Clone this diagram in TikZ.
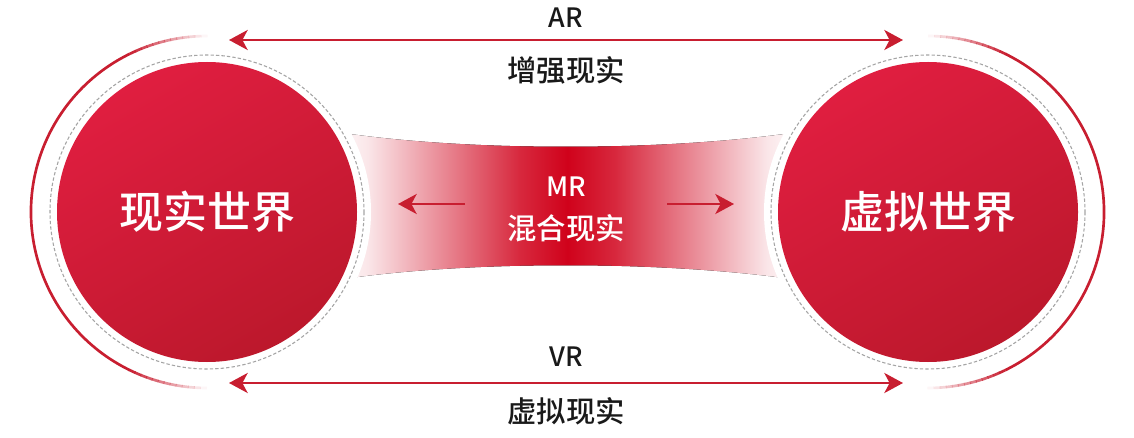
\documentclass[tikz,border=0pt]{standalone}
\usepackage{fontspec}
\setmainfont{Noto Sans CJK SC}
\newfontfamily\medfont{Noto Sans CJK SC Medium}
\usetikzlibrary{arrows.meta}

\definecolor{arred}{RGB}{200,30,48}
\definecolor{mrred}{RGB}{208,2,27}
\definecolor{worldtop}{RGB}{224,30,64}
\definecolor{worldbot}{RGB}{188,24,44}
\definecolor{ringgray}{RGB}{165,165,165}
\definecolor{labelblack}{RGB}{25,25,25}

\pgfdeclarehorizontalshading{mrband}{100bp}{color(0bp)=(white); color(25bp)=(white); color(29bp)=(mrred!10); color(38bp)=(mrred!52); color(45bp)=(mrred!85); color(50bp)=(mrred); color(55bp)=(mrred!85); color(62bp)=(mrred!52); color(71bp)=(mrred!10); color(75bp)=(white); color(100bp)=(white)}

\tikzset{every picture/.style={line width=0.75pt}}
\tikzset{
	world/.style={circle, minimum size=225pt, inner sep=0pt, top color=worldtop, bottom color=worldbot, shading angle=30, text=white, font=\medfont\fontsize{33}{38}\selectfont},
	ring/.style={ringgray, line width=0.8pt, dash pattern=on 2.5pt off 1.6pt},
	outarc/.style={draw=arred, line width=2pt},
	arrline/.style={arred, line width=2.2pt, {Stealth[length=14pt,width=15pt,inset=4pt]}-{Stealth[length=14pt,width=15pt,inset=4pt]}},
	mrarrow/.style={arred, line width=2.2pt, -{Stealth[length=14pt,width=15pt,inset=4pt]}},
	lbl/.style={text=labelblack, font=\medfont\fontsize{22}{26}\selectfont},
	lbllat/.style={text=labelblack, font=\medfont\fontsize{20}{24}\selectfont},
	mrlbl/.style={text=white, font=\medfont\fontsize{22}{26}\selectfont},
	mrlat/.style={text=white, font=\medfont\fontsize{20}{24}\selectfont}}

\begin{document}
\begin{tikzpicture}[x=0.75pt,y=0.75pt,yscale=-1]
	\useasboundingbox (0,0) rectangle (1134,438);

	\coordinate (cL) at (207,212);
	\coordinate (cR) at (928,212);

	%Shape: MR band
	\fill[shading=mrband] (330,131) .. controls (460,152) and (670,152) .. (805,131) -- (805,281) .. controls (670,260) and (460,260) .. (330,281) -- cycle;

	%Shape: white discs round the worlds
	\fill[white] (cL) circle[radius=164];
	\fill[white] (cR) circle[radius=164];

	%Curve Lines: outer arcs, solid middle part
	\draw[outarc] (cL) ++(116:176) arc[start angle=116, end angle=244, radius=176];
	\draw[outarc] (cR) ++(-64:176) arc[start angle=-64, end angle=64, radius=176];
	%Curve Lines: fading ends
	\foreach \k in {0,...,12}{
		\pgfmathsetmacro\op{(\k+0.5)/13}
		\pgfmathsetmacro\sa{90+2*\k}
		\pgfmathsetmacro\sb{268-2*\k}
		\pgfmathsetmacro\ta{\sa-180}
		\pgfmathsetmacro\tb{\sb-180}
		\draw[outarc, draw opacity=\op] (cL) ++(\sa:176) arc[start angle=\sa, delta angle=2.2, radius=176];
		\draw[outarc, draw opacity=\op] (cL) ++(\sb:176) arc[start angle=\sb, delta angle=2.2, radius=176];
		\draw[outarc, draw opacity=\op] (cR) ++(\ta:176) arc[start angle=\ta, delta angle=2.2, radius=176];
		\draw[outarc, draw opacity=\op] (cR) ++(\tb:176) arc[start angle=\tb, delta angle=2.2, radius=176];
	}

	%Shape: dashed rings
	\draw[ring] (cL) circle[radius=157];
	\draw[ring] (cR) circle[radius=157];

	%Shape: worlds
	\node[world] (real) at (cL) {现实世界};
	\node[world] (virt) at (cR) {虚拟世界};

	%Straight Lines: AR
	\coordinate (arL) at (229,40);
	\coordinate (arR) at (903,40);
	\draw[arrline] (arL) -- (arR);
	%Straight Lines: VR
	\coordinate (vrL) at (229,383);
	\coordinate (vrR) at (903,383);
	\draw[arrline] (vrL) -- (vrR);

	%Straight Lines: MR
	\coordinate (mrLs) at (465,204);
	\coordinate (mrLe) at (398,204);
	\coordinate (mrRs) at (667,204);
	\coordinate (mrRe) at (734,204);
	\draw[mrarrow] (mrLs) -- (mrLe);
	\draw[mrarrow] (mrRs) -- (mrRe);

	% Text Node
	\node[lbllat] (ar) at (566,18) {AR};
	% Text Node
	\node[lbl] (arcn) at (566,70) {增强现实};
	% Text Node
	\node[lbllat] (vr) at (566,357) {VR};
	% Text Node
	\node[lbl] (vrcn) at (566,411) {虚拟现实};
	% Text Node
	\node[mrlat] (mr) at (566,187) {MR};
	% Text Node
	\node[mrlbl] (mrcn) at (566,228) {混合现实};

\end{tikzpicture}
\end{document}
